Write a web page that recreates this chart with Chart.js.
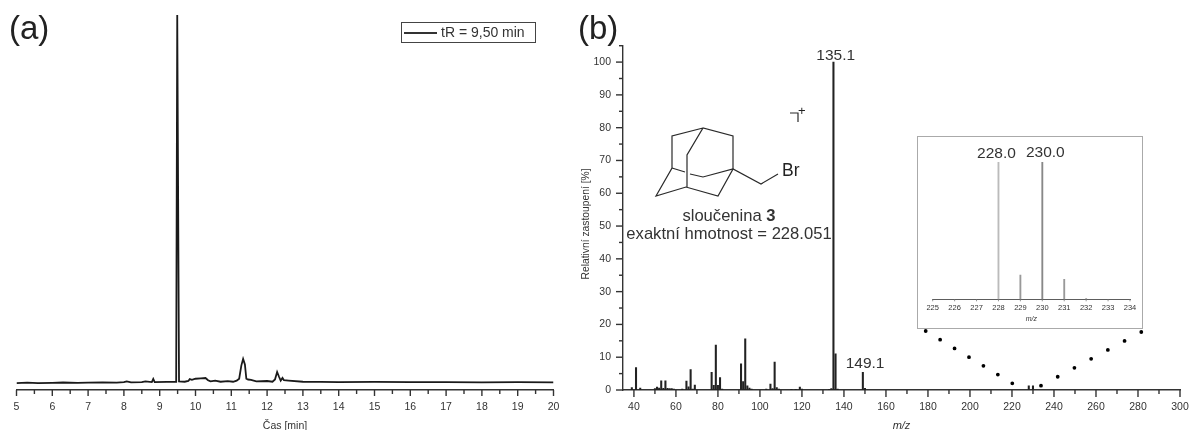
<!DOCTYPE html>
<html lang="cs">
<head>
<meta charset="utf-8">
<title>Chromatogram a hmotnostní spektrum</title>
<script src="https://cdn.jsdelivr.net/npm/chart.js@4"></script>
<style>
    html, body { margin: 0; padding: 0; background: #fff; overflow: hidden; }
    #page { position: relative; width: 1189px; height: 430px; font-family: "Liberation Sans", Arial, sans-serif; color: #333; }
    #page canvas { position: absolute; }
    #chart-a { left: 0; top: 0; }
    #chart-b { left: 570px; top: 0; }
    #chart-inset { left: 918px; top: 137px; background: #fff; outline: 1px solid #aaa; }
    .panel { position: absolute; top: 9px; font-size: 33px; color: #222; }
    #legend { position: absolute; left: 401px; top: 22px; width: 133px; height: 19px; border: 1.5px solid #444; font-size: 14px; line-height: 19px; background: #fff; }
    #legend i { position: absolute; left: 2px; top: 9px; width: 33px; height: 1.5px; background: #333; }
    #legend span { position: absolute; left: 39px; top: 0; white-space: nowrap; }
    .note { position: absolute; left: 600px; width: 258px; text-align: center; font-size: 16.6px; white-space: nowrap; }
    #ylabel { position: absolute; left: 585px; top: 224px; font-size: 10.3px; white-space: nowrap; transform: translate(-50%, -50%) rotate(-90deg); }
    #overlay { position: absolute; left: 0; top: 0; }
</style>
</head>
<body>
<div id="page">
    <canvas id="chart-a" width="575" height="430"></canvas>
    <canvas id="chart-b" width="619" height="430"></canvas>
    <canvas id="chart-inset" width="224" height="191"></canvas>

    <div class="panel" style="left: 9px;">(a)</div>
    <div class="panel" style="left: 578px;">(b)</div>
    <div id="legend"><i></i><span>tR = 9,50 min</span></div>
    <div id="ylabel">Relativní zastoupení [%]</div>

    <svg id="overlay" width="1189" height="430" fill="none">
        <g stroke="#2a2a2a" stroke-width="1.2">
            <path d="M703 128 672 136 672 168 656 196 686 187 718 196 733 169 733 136 703 128 687 155 687 187"/>
            <path d="M672 168 685 172M690 174 703 177 733 169 761 184 778 174"/>
            <path d="M790 113H798V122"/>
        </g>
        <g stroke="#000" stroke-width="3.8" stroke-linecap="round">
            <line x1="925.7" y1="331" x2="1012.3" y2="383.3" stroke-dasharray="0 16.86"/>
            <line x1="1041" y1="385.7" x2="1141.3" y2="332" stroke-dasharray="0 18.96"/>
        </g>
        <text x="782" y="176" fill="#222" font-size="17.5" font-family="Liberation Sans">Br</text>
        <text x="798" y="115" fill="#222" font-size="13" font-family="Liberation Sans">+</text>
    </svg>

    <div class="note" style="top: 206px;">sloučenina <b>3</b></div>
    <div class="note" style="top: 224px;">exaktní hmotnost = 228.051</div>
</div>

<script>
// (a) chromatogram
let casMin = [5, 5.3, 5.6, 6, 6.3, 6.7, 7, 7.4, 7.8, 8, 8.08, 8.2, 8.5, 8.6, 8.78, 8.82, 8.86, 9.2, 9.46, 9.49, 9.5, 9.51, 9.54, 9.7, 9.8, 9.84, 9.9, 10, 10.15, 10.28, 10.35, 10.42, 10.55, 10.7, 10.9, 11.05, 11.15, 11.22, 11.28, 11.33, 11.38, 11.42, 11.47, 11.55, 11.7, 12, 12.15, 12.22, 12.28, 12.33, 12.38, 12.43, 12.47, 12.6, 13, 13.5, 14, 15, 16, 17, 18, 19, 20];
let signal = [1.85, 1.95, 1.85, 1.9, 2, 1.9, 1.95, 2.05, 1.95, 2.1, 2.3, 2.05, 2.1, 2.3, 2.1, 2.95, 2.1, 2.15, 2.15, 100, 100, 100, 2.3, 2.2, 2.4, 2.9, 2.7, 3, 3.1, 3.2, 2.6, 2.3, 2.5, 2.2, 2.35, 2.2, 2.5, 3, 6.5, 8.3, 6.8, 3, 2.8, 2.7, 2.3, 2.4, 2.2, 2.8, 4.8, 3.6, 2.5, 3.2, 2.6, 2.5, 2.2, 2.15, 2.1, 2.15, 2.1, 2.1, 2.05, 2.1, 2.05];

// (b) hmotnostni spektrum
let mz = [39, 41, 43, 50, 51, 52, 53, 54, 55, 56, 57, 58, 59, 63, 65, 66, 67, 68, 69, 77, 78, 79, 80, 81, 82, 91, 92, 93, 94, 95, 96, 103, 105, 106, 107, 108, 109, 115, 117, 119, 120, 133, 134, 135, 136, 137, 149, 150, 228, 230];
let zastoupeni = [0.7, 6.8, 0.6, 0.4, 0.9, 0.6, 2.8, 0.5, 2.8, 0.5, 0.4, 0.4, 0.3, 0.3, 2.7, 1, 6.2, 0.3, 1.5, 5.4, 1.4, 13.7, 1.4, 3.8, 0.3, 8, 2.6, 15.6, 1.3, 0.6, 0.3, 0.3, 1.8, 0.4, 8.5, 0.7, 0.3, 0.2, 0.2, 0.9, 0.3, 0.2, 0.4, 100, 11, 0.3, 5.4, 0.5, 1.3, 1.3];
let popiskyMz = [135.1, 149.1];
let popiskyHodnota = [100, 5.4];

// vyrez spektra
let mzVyrez = [228, 229, 230, 231, 232];
let zastoupeniVyrez = [100, 17.7, 100, 14.6, 0.5];
let popiskyVyrez = [228, 230];

const barvaOsy = '#333';
const barvaTextu = '#333';

// kratke a dlouhe carky na osach, Chart.js umi jen jednu delku
const carkyOs = {
    id: 'carkyOs',
    afterDraw(chart, args, opts) {
        let ctx = chart.ctx;
        ctx.save();
        ctx.strokeStyle = opts.color || barvaOsy;
        ctx.lineWidth = opts.width || 1.4;
        for (let id in chart.scales) {
            let scale = chart.scales[id];
            if (!scale.options.display) continue;
            let major = scale.axis == 'x' ? opts.xMajor : opts.yMajor;
            for (let i = 0; i < scale.ticks.length; i++) {
                let v = scale.ticks[i].value;
                let len = Math.abs(v % major) < 1e-6 ? opts.long : opts.short;
                let p = scale.getPixelForValue(v);
                ctx.beginPath();
                if (scale.axis == 'x') {
                    ctx.moveTo(p, chart.chartArea.bottom);
                    ctx.lineTo(p, chart.chartArea.bottom + len);
                } else {
                    ctx.moveTo(chart.chartArea.left, p);
                    ctx.lineTo(chart.chartArea.left - len, p);
                }
                ctx.stroke();
            }
        }
        ctx.restore();
    }
};

// popisky piku nad carami spektra
const popiskyPiku = {
    id: 'popiskyPiku',
    afterDatasetsDraw(chart, args, opts) {
        if (!opts.mz) return;
        let ctx = chart.ctx;
        ctx.save();
        ctx.fillStyle = barvaTextu;
        ctx.font = opts.font;
        ctx.textAlign = 'center';
        ctx.textBaseline = 'middle';
        for (let i = 0; i < opts.mz.length; i++) {
            let x = chart.scales.x.getPixelForValue(opts.mz[i]);
            let y = chart.scales.y.getPixelForValue(opts.y[i]);
            ctx.fillText(opts.mz[i].toFixed(1), x + opts.dx[i], y + opts.dy[i]);
        }
        ctx.restore();
    }
};

Chart.register(carkyOs, popiskyPiku);
Chart.defaults.font.family = '"Liberation Sans", Arial, sans-serif';
Chart.defaults.color = barvaTextu;
Chart.defaults.animation = false;

function osaX(min, max, krok, major, vyska, opts) {
    return {
        type: 'linear',
        min: min,
        max: max,
        offset: false,
        grid: { display: false, drawTicks: false, offset: false },
        border: { display: true, color: barvaOsy, width: opts.sirka },
        title: { display: true, text: opts.titulek, font: opts.titulekFont, padding: opts.titulekPadding },
        ticks: {
            stepSize: krok,
            autoSkip: false,
            includeBounds: false,
            maxRotation: 0,
            padding: opts.padding,
            font: { size: opts.velikost },
            callback: function (v) { return Math.abs(v % major) < 1e-6 ? v : ''; }
        },
        afterFit: function (scale) {
            scale.height = vyska;
            scale.paddingLeft = 0;
            scale.paddingRight = 0;
        }
    };
}

new Chart(document.getElementById('chart-a'), {
    type: 'line',
    data: {
        datasets: [{
            data: casMin.map(function (t, i) { return { x: t, y: signal[i] }; }),
            borderColor: '#1a1a1a',
            borderWidth: 1.8,
            pointRadius: 0,
            tension: 0
        }]
    },
    options: {
        responsive: false,
        layout: { padding: { left: 16.5, right: 21.5, top: 15, bottom: 0 } },
        plugins: {
            legend: { display: false },
            tooltip: { enabled: false },
            carkyOs: { xMajor: 1, yMajor: 100, long: 6, short: 4 }
        },
        scales: {
            x: osaX(5, 20, 0.5, 1, 40, {
                sirka: 1.4, velikost: 10.5, padding: 11, titulek: 'Čas [min]',
                titulekFont: { size: 10.5 }, titulekPadding: { top: 7, bottom: -2.5 }
            }),
            y: { display: false, min: 0, max: 100 }
        }
    }
});

new Chart(document.getElementById('chart-b'), {
    type: 'bar',
    data: {
        datasets: [{
            data: mz.map(function (m, i) { return { x: m, y: zastoupeni[i] }; }),
            backgroundColor: '#222',
            barThickness: 1.4
        }]
    },
    options: {
        responsive: false,
        layout: { padding: { left: 0, right: 9, top: 45.7, bottom: 0 } },
        plugins: {
            legend: { display: false },
            tooltip: { enabled: false },
            carkyOs: { xMajor: 20, yMajor: 10, long: 7, short: 4 },
            popiskyPiku: {
                mz: popiskyMz, y: popiskyHodnota, font: '15.5px "Liberation Sans"',
                dx: [2, 2], dy: [-6.5, -9]
            }
        },
        scales: {
            x: osaX(34.8, 300, 10, 20, 40, {
                sirka: 1.4, velikost: 10.5, padding: 11, titulek: 'm/z',
                titulekFont: { size: 11, style: 'italic' }, titulekPadding: { top: 7, bottom: -2.5 }
            }),
            y: {
                min: 0,
                max: 105,
                grid: { display: false, drawTicks: false },
                border: { display: true, color: barvaOsy, width: 1.4 },
                ticks: {
                    stepSize: 5,
                    includeBounds: false,
                    autoSkip: false,
                    padding: 12,
                    font: { size: 10.5 },
                    callback: function (v) { return v % 10 == 0 ? v : ''; }
                },
                afterFit: function (scale) { scale.width = 53; }
            }
        }
    }
});

new Chart(document.getElementById('chart-inset'), {
    type: 'bar',
    data: {
        datasets: [{
            data: mzVyrez.map(function (m, i) { return { x: m, y: zastoupeniVyrez[i] }; }),
            backgroundColor: ['#bbb', '#999', '#888', '#999', '#999'],
            barThickness: 1.2
        }]
    },
    options: {
        responsive: false,
        layout: { padding: { left: 14.7, right: 12, top: 25, bottom: 0 } },
        plugins: {
            legend: { display: false },
            tooltip: { enabled: false },
            carkyOs: { xMajor: 1, yMajor: 100, long: 2, short: 2, color: '#777', width: 0.8 },
            popiskyPiku: {
                mz: popiskyVyrez, y: [100, 100], font: '15.5px "Liberation Sans"',
                dx: [-2, 3], dy: [-8, -9]
            }
        },
        scales: {
            x: osaX(225, 234, 1, 1, 28.7, {
                sirka: 0.8, velikost: 7.5, padding: 4, titulek: 'm/z',
                titulekFont: { size: 7, style: 'italic' }, titulekPadding: { top: 3, bottom: 5 }
            }),
            y: { display: false, min: 0, max: 100 }
        }
    }
});
</script>
</body>
</html>
